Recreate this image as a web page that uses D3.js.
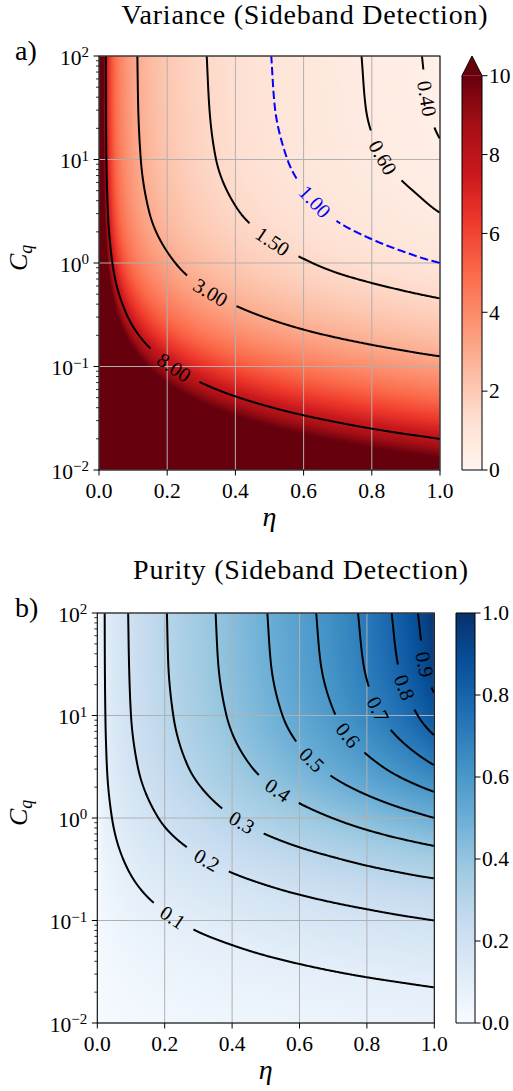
<!DOCTYPE html>
<html>
<head>
<meta charset="utf-8">
<script src="https://cdn.jsdelivr.net/npm/d3@7"></script>
<style>
  body { margin: 0; background: #fff; }
</style>
</head>
<body>
<svg id="fig" width="513" height="1091" font-family="'Liberation Serif', 'DejaVu Serif', 'Noto Serif', 'Times New Roman', Times, serif"></svg>
<script>
// ---------------------------------------------------------------------------
// Data: detection efficiency (columns) and quantum cooperativity (rows)
// ---------------------------------------------------------------------------
const etaGrid = [0.01, 0.02, 0.04, 0.07, 0.1, 0.15, 0.2, 0.3, 0.4, 0.5, 0.6, 0.7, 0.8, 0.9, 0.95, 1];
const cqGrid  = [100, 31.62, 10, 3.162, 1, 0.3162, 0.1, 0.03162, 0.01];

// Conditional variance, one row per C_q value above
const varianceRows = [
  [11.5, 7.96, 5.44, 3.97, 3.22, 2.51, 2.08, 1.56, 1.24, 1.01, 0.839, 0.687, 0.566, 0.465, 0.395, 0.280],
  [11.7, 8.05, 5.50, 4.02, 3.26, 2.55, 2.11, 1.59, 1.26, 1.03, 0.859, 0.709, 0.580, 0.487, 0.425, 0.347],
  [12.1, 8.33, 5.70, 4.17, 3.39, 2.65, 2.21, 1.66, 1.33, 1.10, 0.919, 0.773, 0.636, 0.542, 0.497, 0.442],
  [13.3, 9.18, 6.30, 4.61, 3.76, 2.96, 2.48, 1.89, 1.53, 1.29, 1.10, 0.943, 0.817, 0.701, 0.645, 0.593],
  [16.6, 11.5, 7.91, 5.82, 4.77, 3.79, 3.21, 2.50, 2.07, 1.77, 1.55, 1.37, 1.23, 1.11, 1.05, 1.00],
  [24.5, 17.0, 11.7, 8.69, 7.16, 5.73, 4.88, 3.88, 3.28, 2.87, 2.56, 2.32, 2.13, 1.96, 1.89, 1.82],
  [41.1, 28.5, 19.7, 14.6, 12.1, 9.73, 8.33, 6.68, 5.70, 5.04, 4.55, 4.17, 3.86, 3.61, 3.49, 3.39],
  [73.1, 50.6, 35.1, 26.1, 21.6, 17.4, 14.9, 12.0, 10.3, 9.14, 8.28, 7.62, 7.08, 6.64, 6.45, 6.27],
  [133, 92.1, 63.8, 47.4, 39.3, 31.7, 27.2, 21.9, 18.8, 16.7, 15.2, 14.0, 13.0, 12.2, 11.9, 11.5]
];

// State purity, one row per C_q value above
const purityRows = [
  [0.0683, 0.0956, 0.134, 0.175, 0.209, 0.255, 0.295, 0.366, 0.432, 0.497, 0.564, 0.639, 0.724, 0.831, 0.898, 0.981],
  [0.0676, 0.0946, 0.132, 0.173, 0.206, 0.252, 0.292, 0.362, 0.426, 0.490, 0.556, 0.627, 0.709, 0.809, 0.870, 0.944],
  [0.0655, 0.0917, 0.128, 0.168, 0.200, 0.244, 0.282, 0.349, 0.410, 0.470, 0.531, 0.595, 0.667, 0.750, 0.799, 0.854],
  [0.0600, 0.0841, 0.118, 0.154, 0.183, 0.223, 0.258, 0.317, 0.371, 0.421, 0.471, 0.521, 0.574, 0.631, 0.662, 0.695],
  [0.0489, 0.0686, 0.0960, 0.126, 0.150, 0.182, 0.210, 0.256, 0.297, 0.333, 0.368, 0.401, 0.434, 0.467, 0.483, 0.500],
  [0.0341, 0.0479, 0.0673, 0.0883, 0.105, 0.128, 0.147, 0.179, 0.206, 0.229, 0.251, 0.271, 0.291, 0.309, 0.318, 0.326],
  [0.0211, 0.0297, 0.0418, 0.0550, 0.0655, 0.0798, 0.0917, 0.112, 0.128, 0.143, 0.156, 0.168, 0.179, 0.190, 0.195, 0.200],
  [0.0123, 0.0174, 0.0245, 0.0323, 0.0384, 0.0469, 0.0540, 0.0659, 0.0757, 0.0844, 0.0922, 0.0994, 0.106, 0.112, 0.115, 0.118],
  [0.00701, 0.00990, 0.0140, 0.0184, 0.0220, 0.0269, 0.0310, 0.0379, 0.0436, 0.0486, 0.0532, 0.0574, 0.0612, 0.0648, 0.0666, 0.0683]
];

// Contour levels and where their inline labels sit ([eta, C_q])
const varianceLevels  = [0.4, 0.6, 1, 1.5, 3, 8];
const varianceLabelAt = [[0.961, 39], [0.834, 10.6], [0.633, 3.9], [0.511, 1.67], [0.326, 0.51], [0.218, 0.096]];
const purityLevels    = [0.1, 0.2, 0.3, 0.4, 0.5, 0.6, 0.7, 0.8, 0.9];
const purityLabelAt   = [[0.231, 0.117], [0.329, 0.405], [0.428, 0.89], [0.532, 1.81], [0.626, 3.42],
                         [0.730, 6.0], [0.819, 10.9], [0.893, 17.7], [0.958, 31]];

// Axis and colorbar ticks
const etaTicks      = [0, 0.2, 0.4, 0.6, 0.8, 1.0];
const cqTicks       = [0.01, 0.1, 1, 10, 100];
const varianceTicks = [0, 2, 4, 6, 8, 10];
const purityTicks   = [0, 0.2, 0.4, 0.6, 0.8, 1.0];

// Colormaps (ColorBrewer sequential)
const redsColors  = ["#fff5f0", "#fee0d2", "#fcbba1", "#fc9272", "#fb6a4a", "#ef3b2c", "#cb181d", "#a50f15", "#67000d"];
const bluesColors = ["#f7fbff", "#deebf7", "#c6dbef", "#9ecae1", "#6baed6", "#4292c6", "#2171b5", "#08519c", "#08306b"];

// ---------------------------------------------------------------------------
const SERIF = "'Liberation Serif', 'DejaVu Serif', 'Noto Serif', 'Times New Roman', Times, serif";
const svg = d3.select("#fig");
const defs = svg.append("defs");
const FONT_TICK = 21.5;

function txt(sel) {
  return sel.append("text").attr("font-family", SERIF).style("font-family", SERIF).attr("fill", "#000");
}

// Monotone piecewise-cubic interpolant (linear extrapolation outside the knots)
function pchip(xs, ys) {
  const n = xs.length, d = new Array(n - 1), m = new Array(n);
  for (let i = 0; i < n - 1; i++) d[i] = (ys[i + 1] - ys[i]) / (xs[i + 1] - xs[i]);
  m[0] = d[0]; m[n - 1] = d[n - 2];
  for (let i = 1; i < n - 1; i++) {
    if (d[i - 1] * d[i] <= 0) m[i] = 0;
    else {
      const h0 = xs[i] - xs[i - 1], h1 = xs[i + 1] - xs[i];
      const w1 = 2 * h1 + h0, w2 = h1 + 2 * h0;
      m[i] = (w1 + w2) / (w1 / d[i - 1] + w2 / d[i]);
    }
  }
  return function (t) {
    if (t <= xs[0]) return ys[0] + d[0] * (t - xs[0]);
    if (t >= xs[n - 1]) return ys[n - 1] + d[n - 2] * (t - xs[n - 1]);
    const i = Math.min(n - 2, d3.bisectRight(xs, t) - 1);
    const h = xs[i + 1] - xs[i], s = (t - xs[i]) / h, s2 = s * s, s3 = s2 * s;
    return (2 * s3 - 3 * s2 + 1) * ys[i] + (s3 - 2 * s2 + s) * h * m[i]
         + (-2 * s3 + 3 * s2) * ys[i + 1] + (s3 - s2) * h * m[i + 1];
  };
}

function drawPanel(cfg) {
  const g = svg.append("g");
  const W = cfg.x1 - cfg.x0, H = cfg.y1 - cfg.y0;
  const x = d3.scaleLinear().domain([0, 1]).range([cfg.x0, cfg.x1]);
  const y = d3.scaleLog().domain([0.01, 100]).range([cfg.y1, cfg.y0]);
  const color = d3.scaleLinear()
    .domain(cfg.colors.map((c, i) => cfg.vmin + i * (cfg.vmax - cfg.vmin) / (cfg.colors.length - 1)))
    .range(cfg.colors).clamp(true);

  // --- sample the field on a pixel grid (log-space interpolation) ---
  const nx = Math.round(W), ny = Math.round(H);
  const Ls = cqGrid.map(Math.log10);
  const order = d3.range(Ls.length).sort((a, b) => Ls[a] - Ls[b]);
  const Lasc = order.map(i => Ls[i]);
  const colSpl = etaGrid.map((e, j) => pchip(Lasc, order.map(i => Math.log(cfg.rows[i][j]))));
  const u = etaGrid.map(Math.log);
  const vals = new Array(nx * ny);
  for (let r = 0; r < ny; r++) {
    const L = Math.log10(y.invert(cfg.y0 + (r + 0.5) * H / ny));
    const rowSpl = pchip(u, colSpl.map(f => f(L)));
    for (let c = 0; c < nx; c++) {
      const e = x.invert(cfg.x0 + (c + 0.5) * W / nx);
      vals[r * nx + c] = Math.exp(rowSpl(Math.log(e)));
    }
  }

  // --- heat map ---
  const lutN = 1024, lut = [];
  for (let k = 0; k < lutN; k++) lut.push(d3.rgb(color(cfg.vmin + (cfg.vmax - cfg.vmin) * k / (lutN - 1))));
  const cv = document.createElement("canvas");
  cv.width = nx; cv.height = ny;
  const ctx = cv.getContext("2d");
  const img = ctx.createImageData(nx, ny);
  for (let k = 0; k < nx * ny; k++) {
    let t = (vals[k] - cfg.vmin) / (cfg.vmax - cfg.vmin);
    t = Math.max(0, Math.min(1, t));
    const c = lut[Math.round(t * (lutN - 1))];
    img.data[4 * k] = c.r; img.data[4 * k + 1] = c.g; img.data[4 * k + 2] = c.b; img.data[4 * k + 3] = 255;
  }
  ctx.putImageData(img, 0, 0);
  g.append("image").attr("x", cfg.x0).attr("y", cfg.y0).attr("width", W).attr("height", H)
    .attr("preserveAspectRatio", "none").attr("href", cv.toDataURL());

  const clipId = "clip-" + cfg.id;
  defs.append("clipPath").attr("id", clipId).append("rect")
    .attr("x", cfg.x0).attr("y", cfg.y0).attr("width", W).attr("height", H);

  // --- grid ---
  const grid = g.append("g").attr("stroke", "#b0b0b0").attr("stroke-width", 1);
  etaTicks.forEach(t => grid.append("line").attr("x1", x(t)).attr("x2", x(t)).attr("y1", cfg.y0).attr("y2", cfg.y1));
  cqTicks.forEach(t => grid.append("line").attr("x1", cfg.x0).attr("x2", cfg.x1).attr("y1", y(t)).attr("y2", y(t)));

  // --- contour lines ---
  const contours = d3.contours().size([nx, ny]).thresholds(cfg.levels)(vals);
  const sx = W / nx, sy = H / ny;
  const onEdge = p => p[0] <= 0 || p[0] >= nx || p[1] <= 0 || p[1] >= ny;
  const lineGen = d3.line();
  const cg = g.append("g").attr("clip-path", `url(#${clipId})`);
  const lg = g.append("g");

  contours.forEach((mp, li) => {
    let runs = [];
    mp.coordinates.forEach(poly => poly.forEach(ring => {
      const closed = ring.length > 1 && ring[0][0] === ring[ring.length - 1][0] && ring[0][1] === ring[ring.length - 1][1];
      const base = closed ? ring.slice(0, ring.length - 1) : ring.slice();
      const k = base.findIndex(onEdge);
      const pts = k < 0 ? base.concat([base[0]]) : base.slice(k).concat(base.slice(0, k + 1));
      let cur = [];
      pts.forEach(p => {
        if (onEdge(p)) { if (cur.length > 1) runs.push(cur); cur = []; }
        else cur.push([cfg.x0 + p[0] * sx, cfg.y0 + p[1] * sy]);
      });
      if (cur.length > 1) runs.push(cur);
    }));

    const isSpecial = cfg.special && cfg.special.level === mp.value;
    const stroke = isSpecial ? cfg.special.color : "#000";

    // inline label
    const at = cfg.labelAt[li];
    if (at) {
      const tx = x(at[0]), ty = y(at[1]);
      let best = null;
      runs.forEach((run, ri) => run.forEach((p, pi) => {
        const dd = (p[0] - tx) ** 2 + (p[1] - ty) ** 2;
        if (!best || dd < best.dd) best = { dd, ri, pi };
      }));
      if (best) {
        const run = runs[best.ri];
        const p = run[best.pi];
        const a = run[Math.max(0, best.pi - 4)], b = run[Math.min(run.length - 1, best.pi + 4)];
        let ang = Math.atan2(b[1] - a[1], b[0] - a[0]) * 180 / Math.PI;
        if (ang > 90) ang -= 180;
        if (ang < -90) ang += 180;
        const label = txt(lg)
          .attr("transform", `translate(${p[0]},${p[1]}) rotate(${ang})`)
          .attr("text-anchor", "middle").attr("dy", "0.34em")
          .style("font-size", "20.5px").attr("fill", stroke)
          .text(cfg.labelFormat(mp.value));
        const half = label.node().getComputedTextLength() / 2 + 11;
        const cut = [];
        runs.forEach(rn => {
          let cur = [];
          rn.forEach(q => {
            if (Math.hypot(q[0] - p[0], q[1] - p[1]) < half) { if (cur.length > 1) cut.push(cur); cur = []; }
            else cur.push(q);
          });
          if (cur.length > 1) cut.push(cur);
        });
        runs = cut;
      }
    }

    runs.forEach(run => {
      const path = cg.append("path").attr("d", lineGen(run)).attr("fill", "none")
        .attr("stroke", stroke).attr("stroke-width", 2).attr("stroke-linejoin", "round");
      if (isSpecial) path.attr("stroke-dasharray", "8.3 3.6");
    });
  });

  // --- frame and ticks ---
  g.append("rect").attr("x", cfg.x0).attr("y", cfg.y0).attr("width", W).attr("height", H)
    .attr("fill", "none").attr("stroke", "#000").attr("stroke-width", 1);

  const ax = g.append("g");
  etaTicks.forEach(t => {
    ax.append("line").attr("x1", x(t)).attr("x2", x(t)).attr("y1", cfg.y1).attr("y2", cfg.y1 + 5.5)
      .attr("stroke", "#000").attr("stroke-width", 1);
    txt(ax).attr("x", x(t)).attr("y", cfg.y1 + 28).attr("text-anchor", "middle")
      .style("font-size", FONT_TICK + "px").text(d3.format(".1f")(t));
  });
  for (let dec = -2; dec < 2; dec++) {
    for (let k = 2; k <= 9; k++) {
      const v = k * Math.pow(10, dec);
      ax.append("line").attr("x1", cfg.x0 - 3).attr("x2", cfg.x0).attr("y1", y(v)).attr("y2", y(v))
        .attr("stroke", "#000").attr("stroke-width", 0.8);
    }
  }
  cqTicks.forEach(t => {
    const ty = y(t);
    const ex = Math.round(Math.log10(t));
    ax.append("line").attr("x1", cfg.x0 - 5.5).attr("x2", cfg.x0).attr("y1", ty).attr("y2", ty)
      .attr("stroke", "#000").attr("stroke-width", 1);
    const lab = txt(ax).attr("x", cfg.x0 - 10).attr("y", ty + 8.5).attr("text-anchor", "end")
      .style("font-size", FONT_TICK + "px");
    lab.append("tspan").text("10");
    lab.append("tspan").attr("dy", -7.5).style("font-size", "15px").text(ex < 0 ? "\u2212" + (-ex) : String(ex));
  });

  // axis labels
  txt(g).attr("x", (cfg.x0 + cfg.x1) / 2).attr("y", cfg.y1 + 56).attr("text-anchor", "middle")
    .style("font-size", "28px").style("font-style", "italic").text("\u03b7");
  const yl = txt(g)
    .attr("transform", `translate(27,${(cfg.y0 + cfg.y1) / 2 + 8}) rotate(-90)`)
    .style("font-size", "26px").style("font-style", "italic");
  yl.append("tspan").text("C");
  yl.append("tspan").attr("dy", 5).style("font-size", "18px").text("q");

  // title and panel tag
  txt(g).attr("x", cfg.titleX).attr("y", cfg.titleY).attr("text-anchor", "middle")
    .style("font-size", "28px").style("letter-spacing", "0.8px").text(cfg.title);
  txt(g).attr("x", 15).attr("y", cfg.tagY).style("font-size", "28px").text(cfg.tag);

  // --- colorbar ---
  const cb = svg.append("g");
  const cbTop = cfg.extend ? cfg.y1 - H / 1.05 : cfg.y0;
  const cs = d3.scaleLinear().domain([cfg.vmin, cfg.vmax]).range([cfg.y1, cbTop]);
  const gradId = "grad-" + cfg.id;
  const grad = defs.append("linearGradient").attr("id", gradId)
    .attr("x1", 0).attr("y1", 1).attr("x2", 0).attr("y2", 0);
  cfg.colors.forEach((c, i) => grad.append("stop").attr("offset", i / (cfg.colors.length - 1)).attr("stop-color", c));
  cb.append("rect").attr("x", cfg.cbX).attr("y", cbTop).attr("width", cfg.cbW).attr("height", cfg.y1 - cbTop)
    .attr("fill", `url(#${gradId})`);
  let outline;
  if (cfg.extend) {
    cb.append("path")
      .attr("d", `M${cfg.cbX},${cbTop}L${cfg.cbX + cfg.cbW / 2},${cfg.y0}L${cfg.cbX + cfg.cbW},${cbTop}Z`)
      .attr("fill", cfg.colors[cfg.colors.length - 1]);
    outline = `M${cfg.cbX},${cfg.y1}L${cfg.cbX},${cbTop}L${cfg.cbX + cfg.cbW / 2},${cfg.y0}L${cfg.cbX + cfg.cbW},${cbTop}L${cfg.cbX + cfg.cbW},${cfg.y1}Z`;
  } else {
    outline = `M${cfg.cbX},${cfg.y1}L${cfg.cbX},${cfg.y0}L${cfg.cbX + cfg.cbW},${cfg.y0}L${cfg.cbX + cfg.cbW},${cfg.y1}Z`;
  }
  cb.append("path").attr("d", outline).attr("fill", "none").attr("stroke", "#000").attr("stroke-width", 1);
  cfg.cbTicks.forEach(t => {
    const ty = cs(t);
    cb.append("line").attr("x1", cfg.cbX + cfg.cbW).attr("x2", cfg.cbX + cfg.cbW + 5.5).attr("y1", ty).attr("y2", ty)
      .attr("stroke", "#000").attr("stroke-width", 1);
    txt(cb).attr("x", cfg.cbX + cfg.cbW + 7).attr("y", ty + 7.3)
      .style("font-size", FONT_TICK + "px").text(cfg.cbFormat(t));
  });
}

drawPanel({
  id: "variance", x0: 99, x1: 440, y0: 56, y1: 470,
  rows: varianceRows, levels: varianceLevels, labelAt: varianceLabelAt,
  labelFormat: d3.format(".2f"), special: { level: 1, color: "#0000ff" },
  colors: redsColors, vmin: 0, vmax: 10, extend: true,
  cbX: 462, cbW: 20, cbTicks: varianceTicks, cbFormat: d3.format("d"),
  title: "Variance (Sideband Detection)", titleX: 305, titleY: 24, tag: "a)", tagY: 60
});

drawPanel({
  id: "purity", x0: 97.3, x1: 434.3, y0: 613, y1: 1023,
  rows: purityRows, levels: purityLevels, labelAt: purityLabelAt,
  labelFormat: d3.format(".1f"), special: null,
  colors: bluesColors, vmin: 0, vmax: 1, extend: false,
  cbX: 456, cbW: 19, cbTicks: purityTicks, cbFormat: d3.format(".1f"),
  title: "Purity (Sideband Detection)", titleX: 301, titleY: 579, tag: "b)", tagY: 617
});
</script>
</body>
</html>
